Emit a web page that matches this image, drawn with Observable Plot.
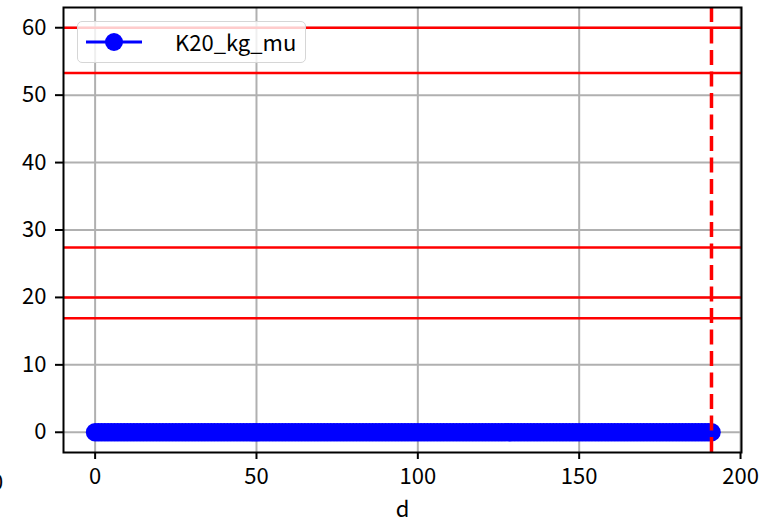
<!DOCTYPE html>
<html>
<head>
<meta charset="utf-8">
<script src="https://cdn.jsdelivr.net/npm/d3@7"></script>
<script src="https://cdn.jsdelivr.net/npm/@observablehq/plot@0.6"></script>
<style>
  html, body { margin: 0; padding: 0; background: #fff; }
  #wrap { position: relative; width: 759px; height: 523px; overflow: hidden; font-family: "Noto Sans CJK JP", "Noto Sans", sans-serif; }
  #legend { position: absolute; left: 77px; top: 21px; width: 227px; height: 40px; border: 1.5px solid #d6d6d6; border-radius: 5px; background: rgba(255,255,255,0.8); }
  #legend svg { position: absolute; left: 0; top: 0; }
  #legend span { position: absolute; left: 97px; top: 4px; font-size: 22px; line-height: 30px; color: #000; }
  #stray { position: absolute; left: -9px; top: 465px; font-size: 22px; line-height: 30px; color: #000; }
</style>
</head>
<body>
<div id="wrap">
  <div id="chart"></div>
  <div id="stray">0</div>
  <div id="legend"><svg width="100" height="40"><line x1="8" x2="64" y1="20" y2="20" stroke="#0000ff" stroke-width="3"/><circle cx="36" cy="20" r="9" fill="#0000ff"/></svg><span id="legText"></span></div>
</div>
<script>
const seriesName = "K20_kg_mu";
const dValues = [0,1,2,3,4,5,6,7,8,9,10,11,12,13,14,15,16,17,18,19,20,21,22,23,24,25,26,27,28,29,30,31,32,33,34,35,36,37,38,39,40,41,42,43,44,45,46,47,48,49,50,51,52,53,54,55,56,57,58,59,60,61,62,63,64,65,66,67,68,69,70,71,72,73,74,75,76,77,78,79,80,81,82,83,84,85,86,87,88,89,90,91,92,93,94,95,96,97,98,99,100,101,102,103,104,105,106,107,108,109,110,111,112,113,114,115,116,117,118,119,120,121,122,123,124,125,126,127,128,129,130,131,132,133,134,135,136,137,138,139,140,141,142,143,144,145,146,147,148,149,150,151,152,153,154,155,156,157,158,159,160,161,162,163,164,165,166,167,168,169,170,171,172,173,174,175,176,177,178,179,180,181,182,183,184,185,186,187,188,189,190,191];
const muValues = [0,0,0,0,0,0,0,0,0,0,0,0,0,0,0,0,0,0,0,0,0,0,0,0,0,0,0,0,0,0,0,0,0,0,0,0,0,0,0,0,0,0,0,0,0,0,0,0,0,0,0,0,0,0,0,0,0,0,0,0,0,0,0,0,0,0,0,0,0,0,0,0,0,0,0,0,0,0,0,0,0,0,0,0,0,0,0,0,0,0,0,0,0,0,0,0,0,0,0,0,0,0,0,0,0,0,0,0,0,0,0,0,0,0,0,0,0,0,0,0,0,0,0,0,0,0,0,0,0,0,0,0,0,0,0,0,0,0,0,0,0,0,0,0,0,0,0,0,0,0,0,0,0,0,0,0,0,0,0,0,0,0,0,0,0,0,0,0,0,0,0,0,0,0,0,0,0,0,0,0,0,0,0,0,0,0,0,0,0,0,0,0];
const hLines = [60, 53.3, 27.4, 20, 16.9];
const vLine = [191];
const xTicks = [0, 50, 100, 150, 200];
const yTicks = [0, 10, 20, 30, 40, 50, 60];

document.getElementById("legText").textContent = seriesName;
const data = dValues.map((d, i) => ({d, v: muValues[i]}));

const chart = Plot.plot({
  width: 759,
  height: 523,
  marginLeft: 63,
  marginRight: 18,
  marginTop: 7,
  marginBottom: 71,
  style: {fontFamily: '"Noto Sans CJK JP", "Noto Sans", sans-serif', fontSize: "22px", color: "#000", background: "#fff"},
  x: {domain: [-9.8, 200.3]},
  y: {domain: [-3, 63]},
  marks: [
    Plot.gridX(xTicks, {stroke: "#b0b0b0", strokeOpacity: 1, strokeWidth: 2}),
    Plot.gridY(yTicks, {stroke: "#b0b0b0", strokeOpacity: 1, strokeWidth: 2}),
    Plot.ruleY(hLines, {stroke: "#ff0000", strokeWidth: 2.5}),
    Plot.line(data, {x: "d", y: "v", stroke: "#0000ff", strokeWidth: 3}),
    Plot.dot(data, {x: "d", y: "v", r: 9.3, fill: "#0000ff", stroke: null}),
    Plot.ruleX(vLine, {stroke: "#ff0000", strokeWidth: 3.5, strokeDasharray: "15,6.5"}),
    Plot.axisX(xTicks, {tickSize: 7, tickPadding: 9, strokeWidth: 2, label: "d", labelAnchor: "center", labelArrow: "none", labelOffset: 64, fontSize: 22}),
    Plot.axisY(yTicks, {tickSize: 8, tickPadding: 9, strokeWidth: 2, label: null, fontSize: 22}),
    Plot.frame({stroke: "#000", strokeWidth: 2})
  ]
});
document.getElementById("chart").appendChild(chart);
</script>
</body>
</html>
